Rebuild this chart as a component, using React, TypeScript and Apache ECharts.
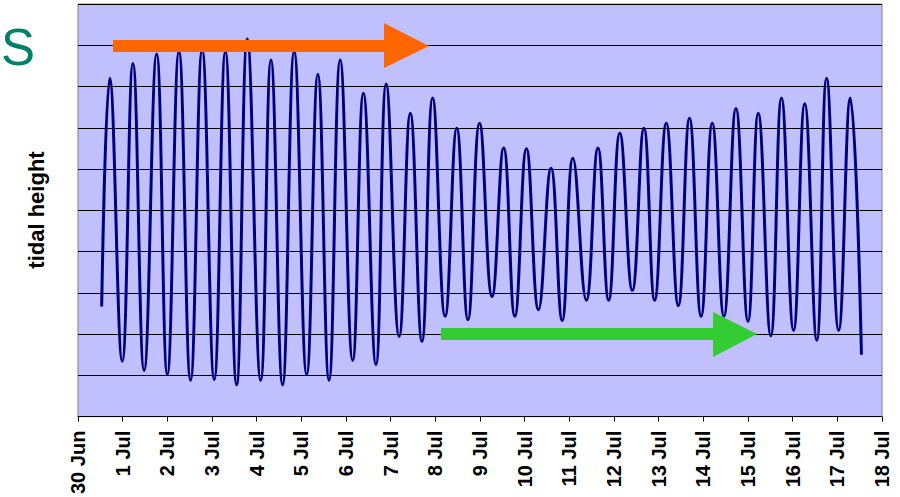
import React, { useEffect, useRef } from "react";
import * as echarts from "echarts";

// Tick labels for the day axis (day 0 = 30 Jun 00:00)
const dayLabels = [
  "30 Jun", "1 Jul", "2 Jul", "3 Jul", "4 Jul", "5 Jul", "6 Jul", "7 Jul", "8 Jul", "9 Jul",
  "10 Jul", "11 Jul", "12 Jul", "13 Jul", "14 Jul", "15 Jul", "16 Jul", "17 Jul", "18 Jul",
];

// Times (days since 30 Jun 00:00) of successive high / low waters
const tideDays = [
  0.53, 0.71, 0.99, 1.23, 1.48, 1.76, 2.0, 2.26, 2.52, 2.78,
  3.05, 3.3, 3.55, 3.79, 4.09, 4.32, 4.58, 4.84, 5.12, 5.37,
  5.62, 5.87, 6.15, 6.39, 6.67, 6.9, 7.19, 7.44, 7.7, 7.94,
  8.22, 8.48, 8.73, 8.99, 9.27, 9.53, 9.78, 10.04, 10.31, 10.59,
  10.84, 11.08, 11.38, 11.64, 11.88, 12.13, 12.41, 12.67, 12.91, 13.17,
  13.44, 13.69, 13.95, 14.2, 14.46, 14.73, 15.0, 15.23, 15.51, 15.75,
  16.02, 16.27, 16.54, 16.76, 17.03, 17.29, 17.54,
];

// Tidal heights (arbitrary units, 0–10) at those times
const tideHeights = [
  2.67, 8.2, 1.34, 8.56, 1.12, 8.79, 1.02, 8.85, 0.88, 8.89,
  0.9, 8.85, 0.77, 9.15, 0.88, 8.64, 0.77, 8.85, 1.02, 8.3,
  0.88, 8.64, 1.36, 7.84, 1.26, 8.06, 1.94, 7.35, 1.82, 7.72,
  2.43, 6.99, 2.35, 7.11, 2.91, 6.51, 2.43, 6.49, 2.59, 6.02,
  2.33, 6.26, 2.82, 6.51, 2.82, 6.87, 3.06, 6.99, 2.82, 7.11,
  2.69, 7.23, 2.43, 7.11, 2.43, 7.47, 2.31, 7.35, 1.96, 7.72,
  2.09, 7.58, 1.85, 8.2, 2.09, 7.72, 1.5,
];

export default function App() {
  const ref = useRef<HTMLDivElement>(null);

  useEffect(() => {
    if (!ref.current) return;
    const chart = echarts.init(ref.current, null, { renderer: "svg" });
    const seriesData = tideDays.map((d, i) => [d, tideHeights[i]]);

    chart.setOption({
      animation: false,
      backgroundColor: "#ffffff",
      grid: {
        left: 78,
        right: 18,
        top: 4,
        bottom: 80,
        show: true,
        backgroundColor: "#C0C0FF",
        borderColor: "#808080",
        borderWidth: 1,
      },
      xAxis: {
        type: "value",
        min: 0,
        max: 18,
        interval: 1,
        axisLine: { show: true, lineStyle: { color: "#000000", width: 1 } },
        axisTick: { show: true, length: 5, lineStyle: { color: "#000000" } },
        splitLine: { show: false },
        axisLabel: {
          rotate: 90,
          margin: 14,
          color: "#000000",
          fontFamily: "Liberation Sans, Arial, sans-serif",
          fontWeight: "bold",
          fontSize: 20,
          formatter: (v: number) => dayLabels[Math.round(v)] ?? "",
        },
      },
      yAxis: {
        type: "value",
        min: 0,
        max: 10,
        interval: 1,
        axisLine: { show: false },
        axisTick: { show: false },
        axisLabel: { show: false },
        splitLine: { show: true, lineStyle: { color: "#000000", width: 1 } },
      },
      series: [
        {
          type: "line",
          data: seriesData,
          showSymbol: false,
          symbol: "none",
          smooth: 0.45,
          lineStyle: { color: "#000080", width: 3 },
          z: 3,
        },
      ],
      graphic: [
        {
          type: "text",
          x: 1,
          y: 47,
          z: 100,
          style: {
            text: "S",
            fill: "#008066",
            font: "51px 'Liberation Sans', Arial, sans-serif",
            align: "left",
            verticalAlign: "middle",
          },
        },
        {
          type: "text",
          x: 36,
          y: 210,
          rotation: Math.PI / 2,
          z: 100,
          style: {
            text: "tidal height",
            fill: "#000000",
            font: "bold 22px 'Liberation Sans', Arial, sans-serif",
            align: "center",
            verticalAlign: "middle",
          },
        },
        {
          type: "rect",
          z: 100,
          shape: { x: 113, y: 40, width: 272, height: 12 },
          style: { fill: "#FF6600" },
        },
        {
          type: "polygon",
          z: 100,
          shape: { points: [[384, 23], [429, 46], [384, 68]] },
          style: { fill: "#FF6600" },
        },
        {
          type: "rect",
          z: 100,
          shape: { x: 441, y: 328, width: 273, height: 12 },
          style: { fill: "#33CC33" },
        },
        {
          type: "polygon",
          z: 100,
          shape: { points: [[713, 312], [757, 334], [713, 357]] },
          style: { fill: "#33CC33" },
        },
      ],
    });

    return () => chart.dispose();
  }, []);

  return (
    <div
      ref={ref}
      style={{ position: "absolute", left: 0, top: 0, width: 900, height: 497 }}
    />
  );
}
